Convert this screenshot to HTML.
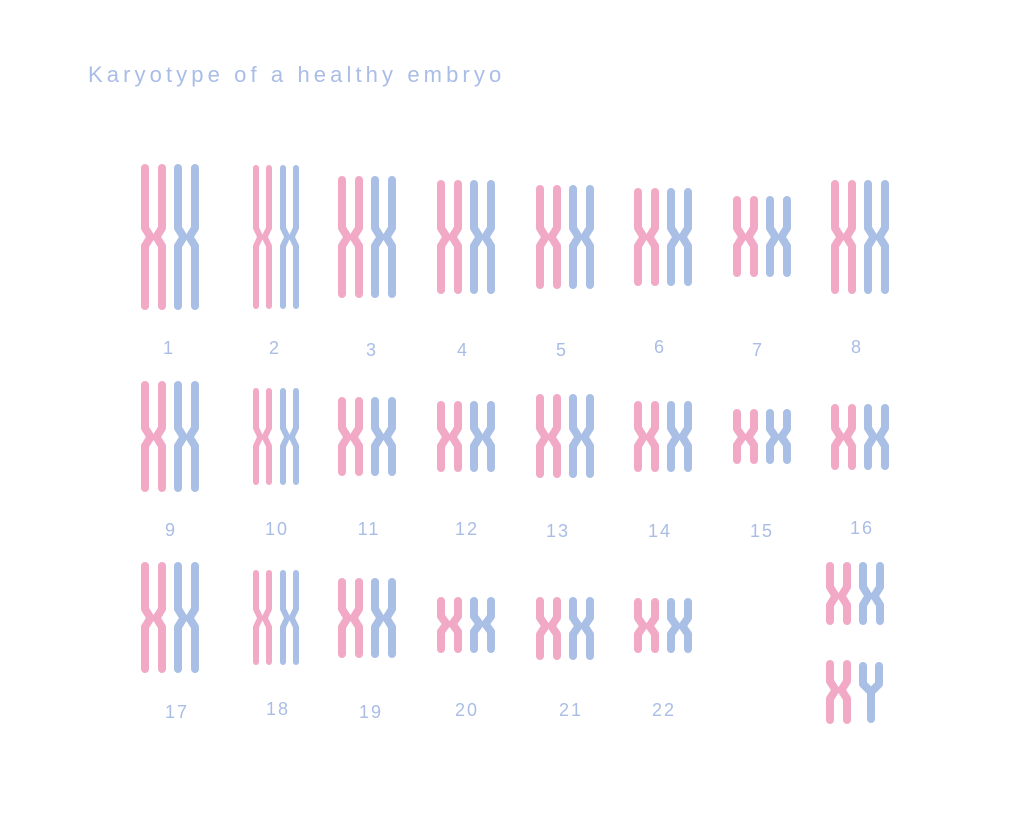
<!DOCTYPE html>
<html><head><meta charset="utf-8"><style>
html,body{margin:0;padding:0;background:#fff;width:1024px;height:817px;overflow:hidden}
svg{display:block}
text{font-family:"Liberation Sans",sans-serif;fill:#a9bde6}
</style></head><body>
<svg id="s" width="1024" height="817" xmlns="http://www.w3.org/2000/svg">
<text x="88" y="82" font-size="22" letter-spacing="4.1">Karyotype of a healthy embryo</text>
<g font-size="18" text-anchor="middle" letter-spacing="2">
<text x="169" y="354">1</text><text x="275" y="354">2</text><text x="372" y="356">3</text><text x="463" y="356">4</text>
<text x="562" y="356">5</text><text x="660" y="353">6</text><text x="758" y="356">7</text><text x="857" y="353">8</text>
<text x="171" y="536">9</text><text x="277" y="535">10</text><text x="369" y="535">11</text><text x="467" y="535">12</text>
<text x="558" y="537">13</text><text x="660" y="537">14</text><text x="762" y="537">15</text><text x="862" y="534">16</text>
<text x="177" y="718">17</text><text x="278" y="715">18</text><text x="371" y="718">19</text><text x="467" y="716">20</text>
<text x="571" y="716">21</text><text x="664" y="716">22</text>
</g>
<g id="c" fill="none" stroke-linecap="round" stroke-linejoin="round"></g>
</svg>
<script>
var P="#f1a9c5",B="#a9bfe6",g=document.getElementById('c'),h='';
function chr(x,d,top,c,bot,col,w){
 var k=Math.min(9,(c-top)/3),b=d*0.33;
 h+='<path stroke="'+col+'" stroke-width="'+w+'" d="M'+x+','+top+'L'+x+','+(c-k)+'L'+(x+b)+','+c+'L'+x+','+(c+k)+'L'+x+','+bot+
 'M'+(x+d)+','+top+'L'+(x+d)+','+(c-k)+'L'+(x+d-b)+','+c+'L'+(x+d)+','+(c+k)+'L'+(x+d)+','+bot+'"/>';
}
function pair(x,top,c,bot,thin){
 var d=thin?13:17,w=thin?6:8,off=thin?27:33;
 chr(x,d,top,c,bot,P,w);chr(x+off,d,top,c,bot,B,w);
}
var xs=[145,256,342,441,540,638,737,835];
var r1=[[168,237,306],[168,237,306],[180,237,294],[184,237,290],[189,237,285],[192,237,282],[200,237,273],[184,237,290]];
var r2=[[385,437,488],[391,437,482],[401,437,472],[405,437,468],[398,437,474],[405,437,468],[413,437,460],[408,437,466]];
var r3=[[566,618,669],[573,618,662],[582,618,654],[601,624,649],[601,626,656],[602,626,649]];
r1.forEach(function(r,i){pair(xs[i],r[0],r[1],r[2],i==1)});
r2.forEach(function(r,i){pair(xs[i],r[0],r[1],r[2],i==1)});
r3.forEach(function(r,i){pair(xs[i],r[0],r[1],r[2],i==1)});
pair(830,566,596,621,false);
chr(830,17,664,690,720,P,8);
h+='<path stroke="'+B+'" stroke-width="8" d="M863,666L863,684L871,692L879,684L879,666M871,692L871,719"/>';
g.innerHTML=h;
</script>
</body></html>
